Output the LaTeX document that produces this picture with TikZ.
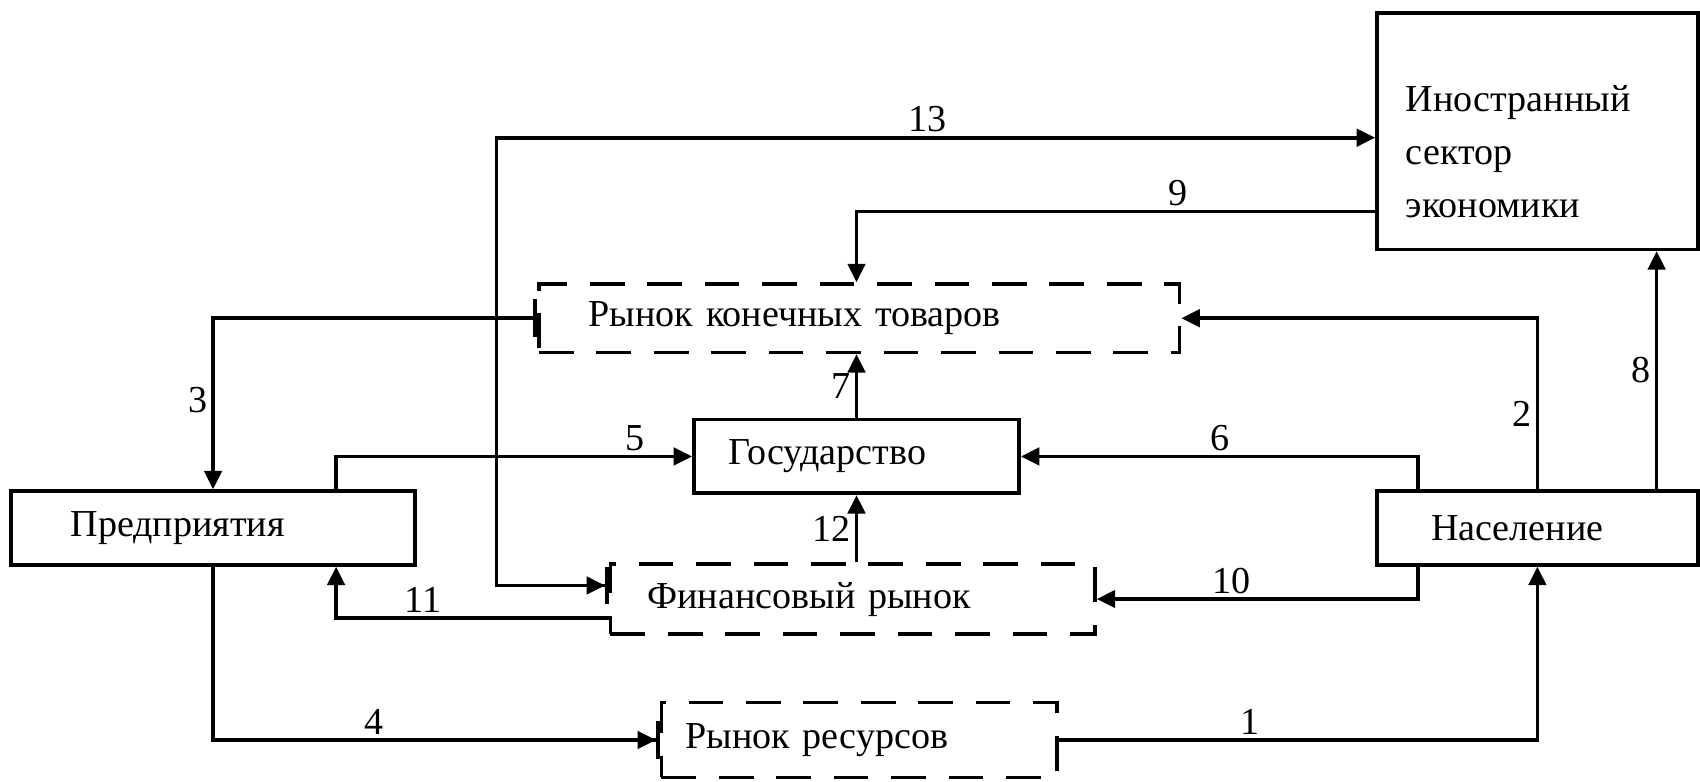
\documentclass[tikz,border=0pt]{standalone}
\usepackage{fontspec}
\setmainfont{Liberation Serif}
\usetikzlibrary{arrows.meta}

\begin{document}
\begin{tikzpicture}[x=0.02cm, y=-0.02cm, line width=1.9pt,
    every node/.style={font=\fontsize{20}{28}\selectfont},
    blk/.style={draw, align=left, inner ysep=0pt, minimum height=1.36cm},
    mktbox/.style={draw, dash pattern=on 0.64cm off 0.42cm, align=left, inner ysep=0pt},
    flow/.style={-{Triangle[length=0.34cm, width=0.32cm]}},
    flowbar/.style={-{Triangle[length=0.34cm, width=0.32cm, sep=0pt]Bar[width=0.7cm]}},
    num/.style={inner sep=2pt}]
    \useasboundingbox (0,0) rectangle (1568,721);
    \node[draw, minimum width=5.92cm, minimum height=4.36cm] (for) at (1418,121) {};
    \node[anchor=west, align=left, inner sep=0pt] (fortxt) at (1295,140) {Иностранный\\сектор\\экономики};
    \node[mktbox, text width=9.98cm, inner xsep=0.92cm, minimum height=1.26cm] (mkt) at (792.5,293.5) {Рынок конечных товаров};
    \node[blk, text width=4.72cm, inner xsep=0.64cm] (gov) at (790,421) {Государство};
    \node[blk, text width=5.26cm, inner xsep=1.1cm] (pred) at (196.5,487) {Предприятия};
    \node[blk, text width=3.92cm, inner xsep=1cm] (pop) at (1418,487) {Население};
    \node[mktbox, text width=7.58cm, inner xsep=0.68cm, minimum height=1.3cm] (fin) at (786.5,552.5) {Финансовый рынок};
    \node[mktbox, text width=6.42cm, inner xsep=0.44cm, minimum height=1.38cm] (res) at (792.5,682.5) {Рынок ресурсов};
    \coordinate (c13) at (458,127);
    \coordinate (l5) at (310,0);
    \coordinate (l6) at (1308,0);
    \coordinate (l8) at (1528,0);
    \draw[{Bar[width=0.7cm]Triangle[length=0.34cm, width=0.32cm, sep=0pt]}-{Triangle[length=0.34cm, width=0.32cm]}]
        ([yshift=0.25cm]fin.west) -| (c13) -- node[num, above, pos=.49] {13} (c13 -| for.west);
    \draw[flow] ([yshift=-1.48cm]for.west) -| node[num, above, pos=.19] {9} (gov.north |- mkt.north);
    \draw[{Bar[width=0.7cm]}-{Triangle[length=0.34cm, width=0.32cm]}] (mkt.west) -| node[num, left, pos=.74] {3} (pred.north);
    \draw[flow] (pred.north -| l5) |- node[num, above, pos=.92] {5} (gov.west);
    \draw[flow] (gov.north) -- node[num, left] {7} (gov.north |- mkt.south);
    \draw[flow] (pop.north -| l6) |- node[num, above, pos=.75] {6} (gov.east);
    \draw[flow] (pop.north) |- node[num, left, pos=.22] {2} (mkt.east);
    \draw[flow] (pop.north -| l8) -- node[num, left] {8} (for.south -| l8);
    \draw[flow] (gov.south |- fin.north) -- node[num, left] {12} (gov.south);
    \draw[flow] (pop.south -| l6) |- node[num, above, pos=.79] {10} (fin.east);
    \draw[flow] ([yshift=-0.35cm]fin.west) -| node[num, above, pos=.34] {11} (pred.south -| l5);
    \draw[flowbar] (pred.south) |- node[num, above, pos=.68] {4} (res.west);
    \draw[flow] (res.east) -| node[num, above, pos=.2] {1} (pop.south);
\end{tikzpicture}
\end{document}
